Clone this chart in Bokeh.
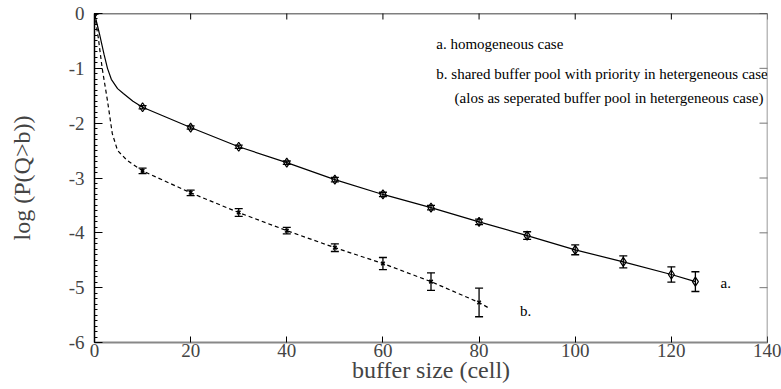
from bokeh.plotting import figure
from bokeh.models import (ColumnDataSource, Whisker, TeeHead, Label, Span,
                          SingleIntervalTicker)
from bokeh.embed import file_html
from bokeh.resources import INLINE

# ---------------- data ----------------
# curve a (solid): homogeneous case
curve_a_x = [0, 1, 2, 2.7, 3.5, 4.8, 6, 8, 10, 20, 30, 40, 50, 60, 70, 80, 90, 100, 110, 120, 125]
curve_a_y = [0, -0.36, -0.75, -1.0, -1.2, -1.37, -1.46, -1.60, -1.71, -2.08, -2.43, -2.72,
             -3.03, -3.30, -3.54, -3.80, -4.05, -4.31, -4.53, -4.76, -4.89]
# measured points a with error half-widths
pts_a_x = [0, 10, 20, 30, 40, 50, 60, 70, 80, 90, 100, 110, 120, 125]
pts_a_y = [0, -1.71, -2.08, -2.43, -2.72, -3.03, -3.30, -3.54, -3.80, -4.05, -4.31, -4.53, -4.76, -4.89]
err_a = [0, 0.03, 0.03, 0.03, 0.03, 0.04, 0.04, 0.04, 0.05, 0.07, 0.09, 0.11, 0.14, 0.18]

# curve b (dashed): shared buffer pool with priority
curve_b_x = [0, 0.8, 1.6, 2.7, 3.7, 4.8, 6.8, 10, 20, 30, 40, 50, 60, 70, 80, 82]
curve_b_y = [0, -0.45, -1.0, -1.59, -2.19, -2.50, -2.68, -2.87, -3.27, -3.63, -3.96, -4.27,
             -4.56, -4.89, -5.27, -5.37]
pts_b_x = [0, 10, 20, 30, 40, 50, 60, 70, 80]
pts_b_y = [0, -2.87, -3.27, -3.63, -3.96, -4.27, -4.56, -4.89, -5.27]
err_b = [0, 0.05, 0.05, 0.07, 0.06, 0.07, 0.11, 0.16, 0.26]

x_ticks = [0, 20, 40, 60, 80, 100, 120, 140]
y_ticks = [-6, -5, -4, -3, -2, -1, 0]
y_tick_labels = ["-6", "-5", "-4", "-3", "-2", "-1", "0"]

FONT = "Liberation Serif"

p = figure(width=781, height=389, x_range=(0, 140), y_range=(-6, 0),
           output_backend="svg", toolbar_location=None,
           min_border_left=94, min_border_right=14, min_border_top=13, min_border_bottom=47)
p.grid.visible = False
p.outline_line_color = None

# bottom axis
xa = p.xaxis[0]
xa.ticker = SingleIntervalTicker(interval=20, num_minor_ticks=0)
xa.axis_label = "buffer size (cell)"
xa.axis_label_text_font = FONT
xa.axis_label_text_font_style = "normal"
xa.axis_label_text_font_size = "24px"
xa.axis_label_standoff = -3
xa.major_label_text_font = FONT
xa.major_label_text_font_size = "19px"
xa.major_label_standoff = 1
xa.major_tick_in = 6
xa.major_tick_out = 0
xa.minor_tick_in = 0
xa.minor_tick_out = 0
xa.axis_line_color = "#888888"
xa.axis_line_width = 2
xa.major_tick_line_color = "black"

# left axis
ya = p.yaxis[0]
ya.ticker = SingleIntervalTicker(interval=1, num_minor_ticks=10)
ya.major_label_overrides = {float(v): s for v, s in zip(y_ticks, y_tick_labels)}
ya.axis_label = "log (P(Q>b))"
ya.axis_label_text_font = FONT
ya.axis_label_text_font_style = "normal"
ya.axis_label_text_font_size = "24px"
ya.axis_label_standoff = 31
ya.major_label_text_font = FONT
ya.major_label_text_font_size = "19px"
ya.major_label_standoff = 10
ya.major_tick_in = 8
ya.major_tick_out = 0
ya.minor_tick_in = 3
ya.minor_tick_out = 0
ya.axis_line_color = "black"
ya.axis_line_width = 1.5

# top and right frame edges with inward ticks
p.add_layout(Span(location=0, dimension="width", line_color="black", line_width=1.5))
p.add_layout(Span(location=140, dimension="height", line_color="#777777", line_width=1.5))
p.scatter(x=x_ticks, y=[0] * len(x_ticks), marker="dash", angle=1.5708, size=12,
          line_color="black", line_width=1)
p.scatter(x=[140] * len(y_ticks), y=y_ticks, marker="dash", size=16,
          line_color="#777777", line_width=1)

# curves
p.line(curve_a_x, curve_a_y, line_color="black", line_width=1.2)
p.line(curve_b_x, curve_b_y, line_color="black", line_width=1.2, line_dash="4 3")

src_a = ColumnDataSource(dict(x=pts_a_x, y=pts_a_y,
                              lo=[y - e for y, e in zip(pts_a_y, err_a)],
                              hi=[y + e for y, e in zip(pts_a_y, err_a)]))
src_b = ColumnDataSource(dict(x=pts_b_x, y=pts_b_y,
                              lo=[y - e for y, e in zip(pts_b_y, err_b)],
                              hi=[y + e for y, e in zip(pts_b_y, err_b)]))

for src in (src_a, src_b):
    w = Whisker(base="x", lower="lo", upper="hi", source=src,
                line_color="black", line_width=1.3,
                upper_head=TeeHead(size=8, line_width=1.3, line_color="black"),
                lower_head=TeeHead(size=8, line_width=1.3, line_color="black"))
    p.add_layout(w)

p.scatter("x", "y", source=src_a, marker="diamond", size=9, fill_color=None,
          line_color="black", line_width=1.2)
p.scatter("x", "y", source=src_b, marker="x", size=5, line_color="black", line_width=1.5)

# annotations
ann = dict(text_font=FONT, text_font_size="15px", text_baseline="middle", text_color="black")
p.add_layout(Label(x=71.1, y=-0.55, text="a. homogeneous case", **ann))
p.add_layout(Label(x=71.1, y=-1.1, text="b. shared buffer pool with priority in hetergeneous case", **ann))
p.add_layout(Label(x=74.9, y=-1.55, text="(alos as seperated buffer pool in hetergeneous case)", **ann))
p.add_layout(Label(x=131.3, y=-4.92, text="a.", text_align="center", **ann))
p.add_layout(Label(x=89.7, y=-5.42, text="b.", text_align="center", **ann))

open("out.html", "w").write(file_html(p, INLINE))
